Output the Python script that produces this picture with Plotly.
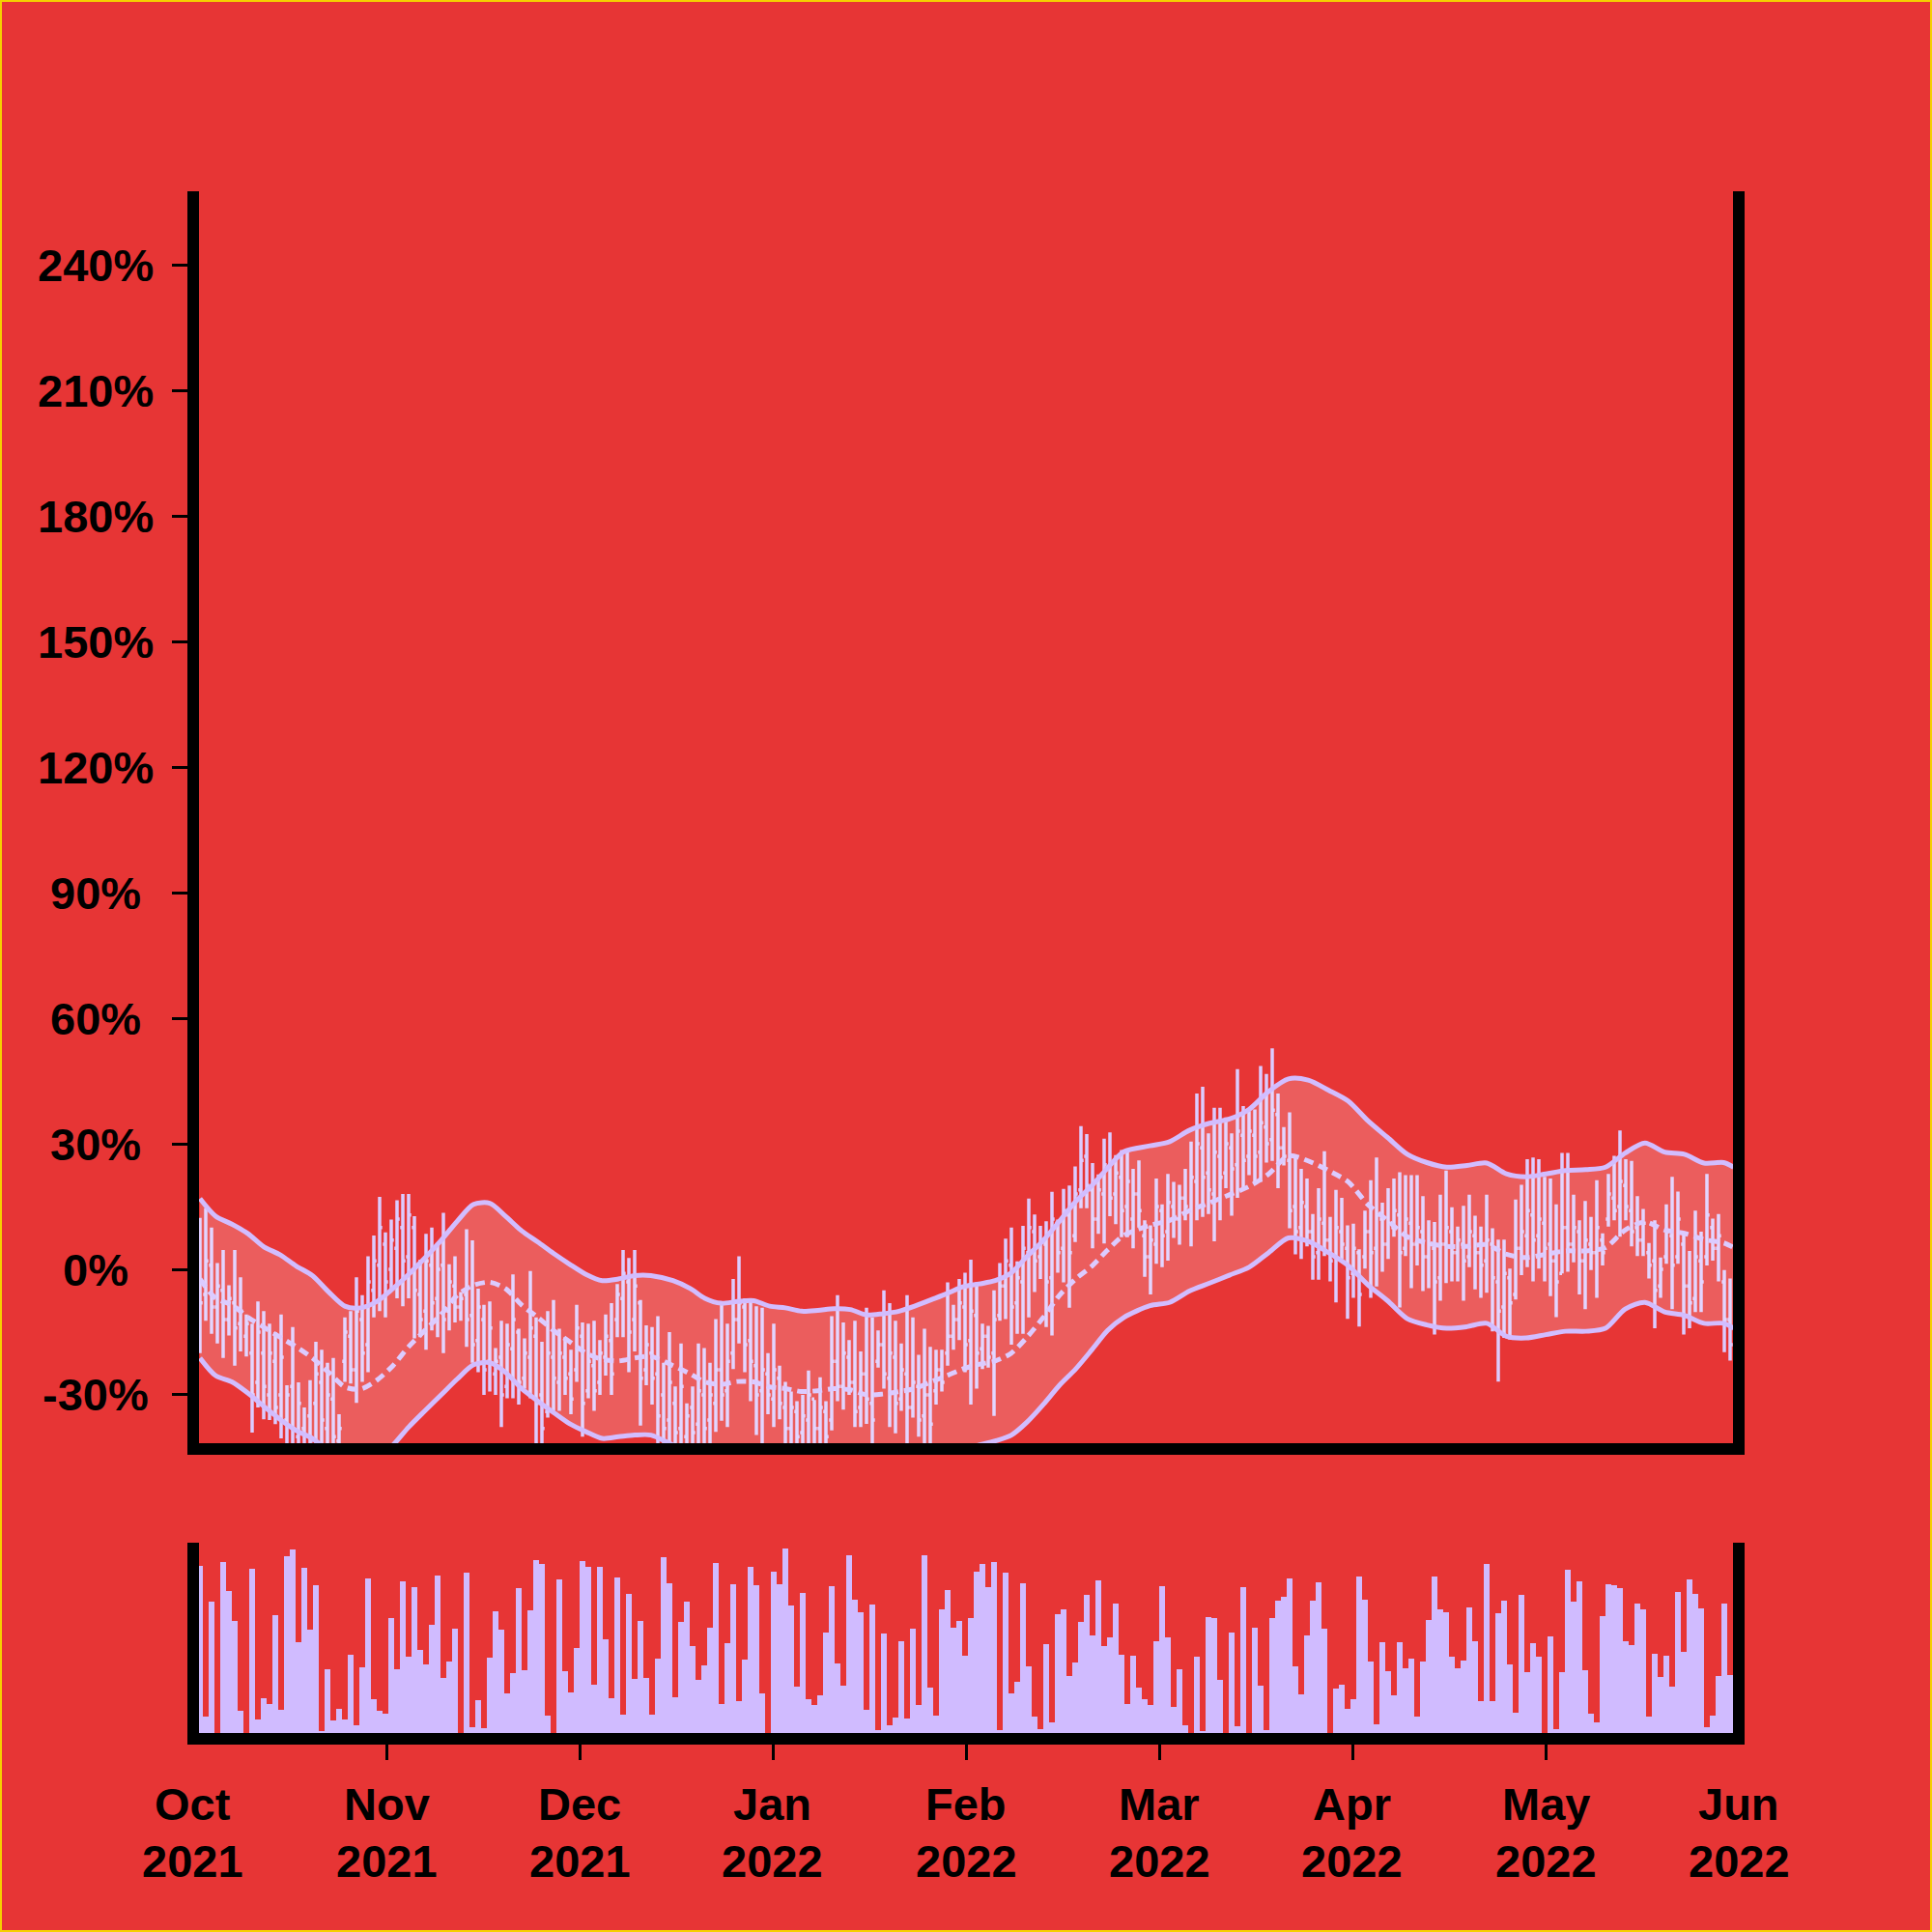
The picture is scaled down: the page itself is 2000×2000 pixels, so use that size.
import plotly.graph_objects as go

# ---------------- data ----------------
bar_index = list(range(265))

high = [
12.3, 14.6, 10, 1.5, 4.6, -3.8, 4.6, -1.9, -10.8, -13,
-7.7, -10, -13, -15, -10.8, -27.7, -13.8, -27, -33, -26.5,
-17.3, -19.2, -22.3, -21.2, -34.6, -11.5, -10, -1.9, -6.2, 3.1,
8.1, 17.3, 8.8, 11.9, 16.5, 18, 18, 12.7, 2.3, 8.5,
10, 6.2, 13.5, 1.2, 3.1, -5.4, 9.6, 6.9, -4.6, -8.5,
-7.7, -18.8, -12.3, -13, -1.2, -14.2, -16.5, -0.4, -11.5, -17.3,
-10, -7.3, -14.2, -16.2, -19.2, -8.5, -12.7, -13, -12.3, -16.9,
-10.8, -8.1, -3.5, 4.6, 2.7, 4.6, -7.3, -13.4, -13.8, -11.2,
-22.3, -15, -28, -17.7, -32, -28, -17.7, -18.8, -22.3, -11.9,
-8.5, -13, -2.3, 3.1, -6.9, -6.9, -8.8, -9.2, -20, -13,
-23, -26.9, -29.2, -31.5, -30, -24.2, -31.2, -25.8, -31.5, -11.2,
-6.2, -12.7, -16.9, -12.3, -19.6, -9.2, -11.5, -14.6, -5, -8.1,
-12.3, -17.7, -6.2, -11.5, -20.4, -14.2, -18.5, -19.2, -19.2, -3.1,
-8.5, -2.3, -0.8, 2.3, -3.1, -13, -13.5, -5, 1.5, 7.3,
10, 1.9, 10.4, 16.9, 13.1, 10.4, 11.5, 18.5, 11.9, 19.2,
20, 24.6, 34.2, 32.3, 25.4, 22.7, 31.2, 32.7, 27.3, 28.5,
28.5, 24, 26, 11.7, 10.5, 21.7, 15.5, 22.8, 20.9, 20.2,
24, 30.5, 42, 43.6, 32.5, 38.6, 38.6, 36.3, 32.5, 47.8,
39, 37.8, 38.2, 48.6, 46.7, 52.8, 42, 34, 37.5, 27.1,
24, 21.7, 13.2, 19.4, 28.2, 12.5, 19, 17.1, 10.5, 10.9,
4.8, 14, 21.3, 26.7, 15.9, 19.4, 21.7, 23.2, 22.5, 22.5,
22.5, 17.5, 11.7, 11.3, 17.8, 23.6, 14.8, 10.2, 15.2, 17.8,
12.8, 10.2, 17.8, 9.8, 7.1, 7.1, 0.2, 16.7, 20.2, 26.3,
26.7, 26.3, 22.1, 21.7, 15.5, 27.8, 27.8, 17.8, 11.7, 16.3,
12.5, 21.3, 8.6, 22.8, 27.1, 33.2, 26.3, 25.9, 17.5, 14.4,
6.3, 11.7, 2.8, 15.5, 22.1, 18.6, 9, 4.4, 14, 9,
22.8, 12.1, 13.2, -0.2, -2.2]

low = [
-20, -12.3, -15.4, -17.7, -21.2, -15.8, -23, -19.6, -20.8, -39,
-33, -35.8, -36, -37, -40.4, -44, -46, -47, -45, -48,
-43, -46, -47, -45, -44, -26.9, -27.3, -31.9, -26.9, -24.6,
-11.5, -10, -11.5, -4.6, -6.9, -8.8, -6.9, -16.5, -16.2, -19.2,
-14.6, -16.2, -20, -14.6, -12.7, -12.3, -18.5, -22.3, -24.6, -30,
-29.2, -30, -37.7, -30.8, -30.8, -32.3, -28.5, -30.8, -42, -44,
-35.4, -33.8, -33.8, -30, -34.6, -26.9, -40, -30.8, -33.8, -30,
-25.4, -30, -16.2, -16.2, -24.6, -19.6, -37.3, -27.7, -32.3, -43,
-45, -46, -44, -46, -44, -45, -47, -46, -44, -38.8,
-36.2, -37.7, -23.8, -17.7, -24.6, -31.5, -39.6, -42, -34.6, -37.7,
-35.8, -44, -45, -44, -45, -44, -46, -44, -45, -38.5,
-31.5, -33.5, -30, -37.7, -37.7, -36.9, -42, -23.5, -28.5, -37.7,
-39.2, -33.8, -42, -35.4, -40, -43, -42, -32.3, -29.2, -23,
-19.2, -16.9, -24.6, -32.3, -28.5, -23.8, -23.5, -35, -12.3, -11.9,
-18, -15.4, -15.4, -11.5, -5.4, -2.3, -13.8, -15.8, -0.8, -3.1,
-9.2, 6.5, 14.6, 14.6, 5, 8.5, 6.2, 12.7, 10.8, 7.7,
7.7, 5, 10, -1.8, -6, 1.3, 0.5, 2.1, 7.5, 5.9,
11.7, 5.5, 11.7, 12.5, 13.2, 6.7, 11.7, 19.4, 12.8, 17.1,
19, 22.5, 20.5, 20.9, 25.5, 25.9, 19.4, 24.8, 9.8, 3.6,
2.5, 5.5, -2.5, -2.5, 3.2, -2.9, -7.9, 2.5, -11.8, -6.8,
-13.7, 0.2, -6.8, -4.1, -0.6, 2.5, 7.8, -9.1, 3.2, -4.5,
0.9, -5.2, -4.5, -15.6, -7.5, -3.3, -2.9, -2.9, -7.5, 0.5,
-4.8, -6.8, -5.6, -14.8, -26.8, -16.4, -16.8, -7.2, -1.4, 0.5,
-2.9, 0.2, -2.9, -6.4, -11.4, -1, -0.6, 1.7, -6, -9.5,
-0.2, -6.8, 0.9, 10.2, 11.7, 7.8, 11.7, 5.5, 3.2, 3.2,
-2.2, -14.1, -6.8, 1.3, -9.5, 1.3, -15.6, -14.1, -10.2, -10.2,
0.9, 2.1, -2.9, -19.8, -21.8]

open_ = [
-2, -6, 1, -9, -5, -12, -8, -13, -16, -20,
-27, -20, -30, -22, -30, -36, -28, -40, -38, -35,
-32, -27, -38, -31, -41, -22, -16, -24, -12, -18,
-5, 1, 6, 0, 5, 10, 3, 10, -6, -10,
1, -7, 1, -10, -4, -9, -6, -11, -17, -12,
-22, -25, -21, -28, -19, -15, -26, -21, -16, -30,
-34, -21, -27, -21, -25, -24, -16, -29, -23, -27,
-21, -17, -12, -7, -3, -12, -8, -24, -20, -25,
-30, -36, -32, -38, -40, -33, -37, -30, -36, -32,
-24, -29, -20, -12, -9, -17, -23, -29, -25, -31,
-26, -33, -38, -34, -39, -36, -31, -38, -34, -36,
-22, -28, -21, -27, -33, -25, -32, -22, -18, -26,
-21, -31, -25, -33, -28, -35, -30, -29, -24, -20,
-16, -12, -9, -17, -11, -19, -16, -20, -11, -4,
1, -8, -3, 4, 9, 3, 6, -2, 11, 5,
13, 8, 19, 27, 19, 12, 18, 24, 18, 22,
15, 12, 18, 8, 3, 6, 14, 9, 15, 12,
17, 14, 21, 29, 23, 18, 27, 23, 29, 25,
32, 27, 32, 28, 34, 31, 37, 29, 26, 15,
10, 15, 9, 4, 11, 7, 3, 9, 5, -1,
4, 3, 9, 5, 12, 6, 10, 13, 5, 11,
6, 9, 3, 5, -2, 6, 9, 4, 6, 3,
8, 4, 2, 6, -3, -9, -2, -6, 5, 8,
13, 8, 11, 6, 2, -1, 10, 6, 9, 2,
6, 4, 7, 12, 17, 15, 20, 14, 10, 7,
4, 2, -4, 3, 8, 3, 6, -4, -7, 2,
3, 10, 5, -3, -12]

close = [
-8, 2, -9, -4, -12, -7, -14, -10, -13, -30,
-15, -28, -20, -33, -21, -30, -38, -32, -42, -41,
-25, -36, -30, -40, -38, -15, -24, -10, -20, -3,
2, 10, -3, 7, 12, 2, 13, -5, -12, 2,
-8, 0, -12, -3, -9, -7, -12, -18, -9, -24,
-14, -22, -30, -18, -12, -27, -20, -14, -32, -38,
-20, -26, -20, -26, -31, -14, -32, -22, -29, -20,
-16, -25, -6, -1, -15, -4, -26, -18, -26, -35,
-38, -27, -39, -28, -35, -39, -29, -38, -30, -24,
-30, -22, -12, -8, -18, -22, -30, -24, -30, -24,
-32, -38, -33, -40, -35, -30, -38, -33, -40, -22,
-28, -20, -27, -34, -25, -31, -36, -18, -25, -20,
-32, -24, -33, -27, -36, -30, -37, -24, -27, -16,
-12, -8, -18, -10, -20, -16, -21, -12, -4, 2,
-9, -2, 5, 10, 2, 7, -3, 12, 4, 14,
4, 18, 26, 20, 12, 19, 25, 17, 23, 14,
21, 18, 14, 3, 7, 15, 8, 16, 12, 17,
15, 22, 30, 22, 19, 28, 22, 30, 24, 33,
26, 33, 27, 35, 30, 38, 29, 27, 14, 9,
16, 9, 3, 12, 7, 2, 10, 6, -2, 5,
-6, 9, 4, 13, 6, 11, 14, 4, 12, 6,
10, 3, 6, -3, 6, 10, 4, 7, 2, 9,
4, 1, 7, -2, -10, -1, -8, 5, 9, 14,
7, 12, 5, 2, -3, 10, 6, 10, 2, 7,
4, 10, 4, 18, 14, 21, 15, 9, 7, 11,
1, -5, 0, 9, 1, 12, -4, -8, 3, -3,
13, 5, 8, -12, -18]

volume = [
173, 17, 136, 0, 177, 147, 116, 23, 0, 170,
14, 36, 30, 122, 24, 183, 190, 94, 171, 107,
153, 2, 66, 13, 25, 14, 81, 8, 68, 160,
35, 23, 20, 119, 66, 157, 79, 151, 86, 71,
112, 163, 57, 74, 108, 0, 166, 6, 34, 5,
78, 126, 107, 41, 62, 150, 65, 127, 179, 175,
18, 0, 159, 64, 42, 88, 178, 172, 50, 172,
97, 36, 161, 19, 144, 56, 116, 57, 19, 77,
182, 155, 37, 115, 136, 90, 55, 70, 109, 176,
30, 93, 154, 33, 76, 172, 153, 41, 0, 167,
154, 191, 132, 48, 145, 35, 29, 39, 104, 152,
72, 49, 184, 138, 125, 24, 133, 3, 103, 8,
16, 95, 15, 108, 29, 184, 47, 18, 128, 148,
109, 116, 80, 119, 167, 175, 151, 177, 3, 166,
41, 53, 155, 69, 17, 4, 92, 11, 123, 128,
59, 73, 115, 143, 101, 158, 90, 99, 134, 81,
30, 80, 47, 35, 29, 95, 152, 99, 27, 66,
8, 0, 79, 2, 120, 119, 55, 0, 104, 7,
151, 0, 109, 49, 3, 119, 137, 141, 160, 69,
40, 101, 137, 156, 108, 0, 46, 50, 25, 35,
162, 138, 74, 9, 94, 64, 39, 94, 67, 77,
17, 74, 117, 162, 128, 125, 79, 67, 75, 130,
95, 33, 175, 33, 124, 137, 71, 21, 143, 63,
93, 79, 0, 100, 4, 63, 169, 136, 157, 65,
20, 11, 121, 154, 153, 150, 95, 91, 134, 128,
17, 82, 58, 80, 48, 146, 84, 159, 144, 129,
6, 18, 59, 134, 60]

band_x = [
0, 2.7, 5.5, 8.3, 11, 13.8, 16.6, 19.4, 22.2, 25,
27.7, 30.5, 33.3, 36, 38.8, 41.6, 44.4, 47.2, 50, 52.7,
55.5, 58.3, 61, 63.8, 66.6, 69.4, 72.2, 75, 77.8,
81.6, 84.6, 87.1, 89.9, 92.7, 95.5, 98.3, 101, 103.8, 106.6,
109.4, 112.2, 115, 117.8, 120.6, 123.3, 126.1, 128.9, 131.6, 134.4,
137.2, 140, 142.7, 145.5, 148.3, 151.1, 153.9, 156.6, 159.4,
163.9, 167.3, 170.7, 174.2, 177.6, 181, 184.4, 187.8, 191.2, 194.7,
198.1, 201.5, 204.9, 208.3, 211.7, 215.1, 218.6, 222, 225.4, 228.8,
232.2, 235.6, 239.1, 242.5, 245.9, 249.3, 252.7, 256.1, 259.5, 262.9,
264.6]

band_upper = [
16.9, 12.7, 10.8, 8.5, 5.4, 3.5, 0.8, -1.5, -5.4, -8.8,
-9.2, -7.7, -4.6, -1.2, 2.7, 6.9, 11.5, 15.5, 15.8, 12.7,
9.2, 6.5, 3.8, 1.2, -1.2, -2.7, -2.3, -1.5, -1.5,
-2.7, -4.6, -6.9, -8.1, -7.7, -7.5, -8.8, -9.2, -10, -9.8,
-9.4, -9.6, -10.9, -10.6, -10, -8.8, -7.3, -5.8, -4.2, -3.5,
-2.7, -0.8, 3.1, 6.9, 11.5, 16.2, 20, 24.2, 28.1,
29.5, 30.5, 33.2, 34.9, 35.9, 38.2, 42.5, 45.5, 45.2, 42.8,
40.2, 35.5, 31.5, 27.5, 25.5, 24.4, 24.8, 25.4, 22.8, 22.1,
22.8, 23.6, 23.8, 24.4, 27.8, 30.2, 28, 27.5, 25.4, 25.5,
24.4]

band_middle = [
-2.3, -6.9, -8.5, -11.5, -13.8, -16.2, -18.5, -21.2, -24.6, -28.1,
-28.6, -26.5, -23, -18.5, -14.6, -10.8, -6.2, -3.8, -3.1, -4.6,
-8.5, -11.5, -14.6, -17.3, -20, -21.5, -21.9, -21.2, -20.8,
-23, -25, -26.9, -27.5, -26.8, -26.9, -28.1, -28.5, -29.2, -29,
-28.5, -28.8, -30, -29.8, -29.2, -28.5, -26.9, -25.4, -23.8, -22.7,
-21.9, -20, -16.2, -11.5, -6.2, -2.3, 0.8, 4.6, 8.1,
10.5, 11.7, 14, 15.9, 17.8, 19.8, 22.8, 27.1, 25.9, 23.6,
20.9, 15.5, 11.7, 7.8, 6.3, 5.5, 5.5, 5.9, 3.6, 2.8,
3.6, 4.4, 4.4, 5.2, 9.4, 11.3, 9.4, 8.6, 7.1, 6.3,
5.2]

band_lower = [
-21.2, -25.4, -26.9, -29.6, -32.7, -35.8, -38.5, -40.4, -43.5, -47,
-47.5, -45.5, -42, -37.7, -33.8, -30, -26.2, -22.8, -22.3, -24.6,
-28.5, -31.5, -34.2, -36.9, -38.8, -40.4, -40, -39.6, -39.6,
-42, -44, -46, -46.5, -45.8, -46, -47, -47.5, -48, -48,
-47.5, -47.8, -49, -48.8, -48, -47.5, -46, -44.5, -43, -42,
-41, -39.6, -36.5, -32.3, -27.7, -23.8, -19.2, -14.6, -11.5,
-8.7, -7.9, -5.2, -3.3, -1.4, 0.5, 4, 7.5, 6.7, 4,
0.9, -3.7, -7.5, -11.8, -13.3, -14.1, -13.7, -12.9, -16, -16.4,
-15.6, -14.8, -14.8, -14.1, -9.5, -7.9, -10.2, -11, -12.9, -12.9,
-14.1]

month_pos = [-1.1667, 32.1667, 65.5, 98.8333, 132.1667, 165.5, 198.8333, 232.1667, 265.5]
month_names = ["Oct", "Nov", "Dec", "Jan", "Feb", "Mar", "Apr", "May", "Jun"]
month_years = ["2021", "2021", "2021", "2022", "2022", "2022", "2022", "2022", "2022"]
y_ticks = [-30, 0, 30, 60, 90, 120, 150, 180, 210, 240]
y_tick_text = ["-30%", "0%", "30%", "60%", "90%", "120%", "150%", "180%", "210%", "240%"]

# ---------------- style ----------------
BG = "#E73535"
LAV = "#D2BDFF"
LAV_LIGHT = "#DCCBFF"
FONT = dict(family="Liberation Sans, Arial, sans-serif", size=47, color="black", weight="bold")

W, H = 2000, 2000
ML, MR, MT, MB = 206, 206, 198, 206
PW, PH = W - ML - MR, H - MT - MB

fig = go.Figure()

fig.add_trace(go.Scatter(x=band_x, y=band_lower, mode="lines",
                         line=dict(color=LAV, width=5, shape="spline", smoothing=0.8),
                         hoverinfo="skip", xaxis="x", yaxis="y", showlegend=False))
fig.add_trace(go.Scatter(x=band_x, y=band_upper, mode="lines", fill="tonexty",
                         fillcolor="rgba(255,255,255,0.2)",
                         line=dict(color=LAV, width=5, shape="spline", smoothing=0.8),
                         hoverinfo="skip", xaxis="x", yaxis="y", showlegend=False))
fig.add_trace(go.Scatter(x=band_x, y=band_middle, mode="lines",
                         line=dict(color=LAV_LIGHT, width=5, dash="10px,6px",
                                   shape="spline", smoothing=0.8),
                         hoverinfo="skip", xaxis="x", yaxis="y", showlegend=False))
fig.add_trace(go.Ohlc(x=bar_index, open=open_, high=high, low=low, close=close,
                      increasing=dict(line=dict(color=LAV_LIGHT, width=3.5)),
                      decreasing=dict(line=dict(color=LAV_LIGHT, width=3.5)),
                      tickwidth=0.45, xaxis="x", yaxis="y", showlegend=False))
fig.add_trace(go.Bar(x=bar_index, y=volume, marker=dict(color="#D0BBFF", line=dict(width=0)),
                     xaxis="x2", yaxis="y2", showlegend=False))

x_range = [-1 / 6, 264.5]
vol_top = (1794 - 1597) / PH
main_bottom = (1794 - 1494) / PH

axis_common = dict(showgrid=False, zeroline=False, showline=True, linecolor="black", linewidth=12)

fig.update_layout(
    width=W, height=H,
    margin=dict(l=ML, r=MR, t=MT, b=MB),
    paper_bgcolor=BG, plot_bgcolor=BG,
    bargap=0, showlegend=False,
    xaxis=dict(domain=[0, 1], range=x_range, anchor="y", ticks="", showticklabels=False,
               rangeslider=dict(visible=False), **axis_common),
    yaxis=dict(domain=[main_bottom, 1], range=[-41.54, 257.54], anchor="x", mirror=True,
               tickmode="array", tickvals=y_ticks, ticks="outside", ticklen=16, tickwidth=3,
               tickcolor="black", showticklabels=False, **axis_common),
    xaxis2=dict(domain=[0, 1], range=x_range, anchor="y2", matches="x",
                tickmode="array", tickvals=month_pos[1:-1], ticks="outside", ticklen=16,
                tickwidth=3, tickcolor="black", showticklabels=False, **axis_common),
    yaxis2=dict(domain=[0, vol_top], range=[0, 197], anchor="x2", mirror=True,
                ticks="", showticklabels=False, **axis_common),
)


def x_to_paper(v):
    return (v - x_range[0]) / (x_range[1] - x_range[0])


annotations = []
for v, t in zip(y_ticks, y_tick_text):
    annotations.append(dict(x=(99 - ML) / PW, xref="paper", y=v, yref="y", text=t,
                            showarrow=False, xanchor="center", yanchor="middle", font=FONT))
for p, m, yr in zip(month_pos, month_names, month_years):
    annotations.append(dict(x=x_to_paper(p), xref="paper", y=(1794 - 1867) / PH, yref="paper",
                            text=m, showarrow=False, xanchor="center", yanchor="middle", font=FONT))
    annotations.append(dict(x=x_to_paper(p), xref="paper", y=(1794 - 1926) / PH, yref="paper",
                            text=yr, showarrow=False, xanchor="center", yanchor="middle", font=FONT))
fig.update_layout(annotations=annotations)

fig.add_shape(type="rect", xref="paper", yref="paper",
              x0=-(ML - 1) / PW, x1=1 + (MR - 1) / PW, y0=-(MB - 1) / PH, y1=1 + (MT - 1) / PH,
              line=dict(color="#F5D000", width=2), fillcolor="rgba(0,0,0,0)")

fig.write_html("out.html", config={"displayModeBar": False},
               post_script="document.body.style.margin='0px';document.body.style.overflow='hidden';")
